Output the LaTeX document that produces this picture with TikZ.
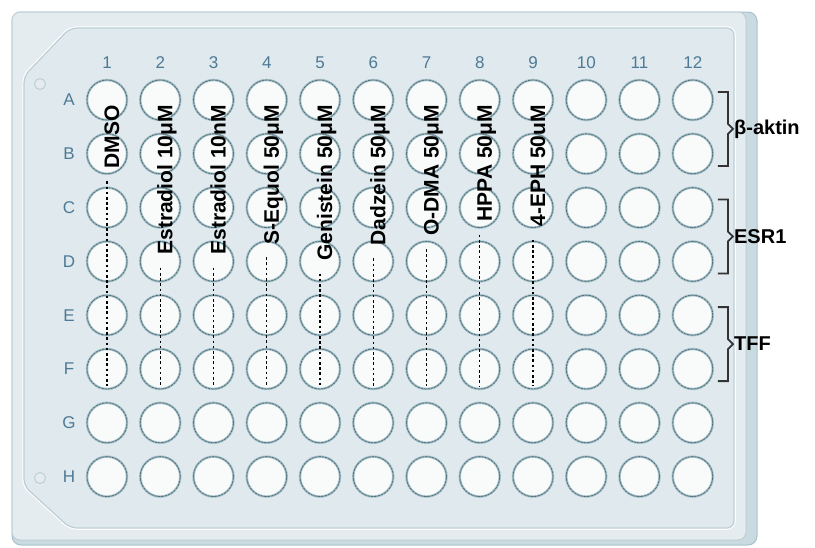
\documentclass[tikz,border=0pt]{standalone}
\usepackage{fontspec}
\setmainfont{Liberation Sans}
\usetikzlibrary{calc}
\definecolor{plateface}{HTML}{E4ECEF}
\definecolor{plateinner}{HTML}{E0E9ED}
\definecolor{plateside}{HTML}{C9DAE0}
\definecolor{plateedge}{HTML}{A8C1CA}
\definecolor{plateline}{HTML}{BCCFD6}
\definecolor{wellfill}{HTML}{F9FAFA}
\definecolor{wellhalo}{HTML}{A9C1C9}
\definecolor{welledge}{HTML}{4E7480}
\definecolor{idxblue}{HTML}{4D7A96}
\definecolor{brk}{HTML}{333333}
\begin{document}
\begin{tikzpicture}[x=1pt,y=-1pt,declare function={x0=107; y0=100; dx=53.25; dy=53.8;},line join=round,line cap=round,
	well/.style={circle,minimum size=40pt,inner sep=0pt,fill=wellfill,draw=wellhalo,line width=2.4pt,postaction={draw=welledge,line width=.8pt,dash pattern=on 2.2pt off 1.2pt}},
	idx/.style={text=idxblue,font=\fontsize{17}{17}\selectfont},
	drug/.style={rotate=90,anchor=base east,inner sep=0pt,font=\bfseries\fontsize{21}{21}\selectfont},
	gene/.style={anchor=west,inner sep=1pt,font=\bfseries\fontsize{20}{20}\selectfont},
	dotln/.style={black,line width=1.3pt,dash pattern=on 2.6pt off 2.6pt,line cap=butt},
	bracket/.style={brk,line width=1.8pt,line cap=butt,line join=miter}]
	\useasboundingbox (0,0) rectangle (815,547);
	\draw[fill=plateside,draw=plateedge,line width=1pt,rounded corners=9] (12,12) rectangle (757,545);
	\draw[fill=plateface,draw=plateline,line width=1pt,rounded corners=8] (12,12) rectangle (746,540);
	\draw[white,line width=3.5pt,rounded corners=7] (24,76) -- (70,28) -- (734,28) -- (734,528) -- (70,528) -- (24,486) -- cycle;
	\draw[fill=plateinner,draw=plateline,line width=1.2pt,rounded corners=7] (24,76) -- (70,28) -- (734,28) -- (734,528) -- (70,528) -- (24,486) -- cycle;
	\foreach \hy in {84,478}{
		\draw[plateline,fill=plateface,line width=1pt] (40,\hy) circle[radius=5.5pt];
	}
	\foreach \c in {1,...,12}{
		\node[idx] (col\c) at ({x0+(\c-1)*dx},63) {\c};
		\foreach \rl [count=\r] in {A,B,C,D,E,F,G,H}{
			\node[well] (w\c-\rl) at ({x0+(\c-1)*dx},{y0+(\r-1)*dy}) {};
		}
	}
	\foreach \rl [count=\r] in {A,B,C,D,E,F,G,H}{
		\node[idx] (row\rl) at (69,{y0+(\r-1)*dy}) {\rl};
	}
	\foreach \c/\txt in {1/DMSO,2/Estradiol 10μM,3/Estradiol 10nM,4/S-Equol 50μM,5/Genistein 50μM,6/Dadzein 50μM,7/O-DMA 50μM,8/HPPA 50μM,9/4-EPH 50uM}{
		\node[drug] (drug\c) at ({x0+(\c-1)*dx+12},105) {\txt};
		\draw[dotln,shorten <=13pt,shorten >=4pt] (drug\c.west -| w\c-F) -- (w\c-F.south);
	}
	\foreach \ra/\rb/\gn/\txt in {A/B/act/β-aktin,C/D/esr/ESR1,E/F/tff/TFF}{
		\coordinate (tip\gn) at ($(w12-\ra.east)!.5!(w12-\rb.east)+(19,2)$);
		\draw[bracket] ($(tip\gn)+(-15,-37)$) -- ++(10,0) -- ++(0,32) -- (tip\gn) -- ++(-5,5) -- ++(0,32) -- ++(-10,0);
		\node[gene] (gene\gn) at (tip\gn) {\txt};
	}
\end{tikzpicture}
\end{document}
